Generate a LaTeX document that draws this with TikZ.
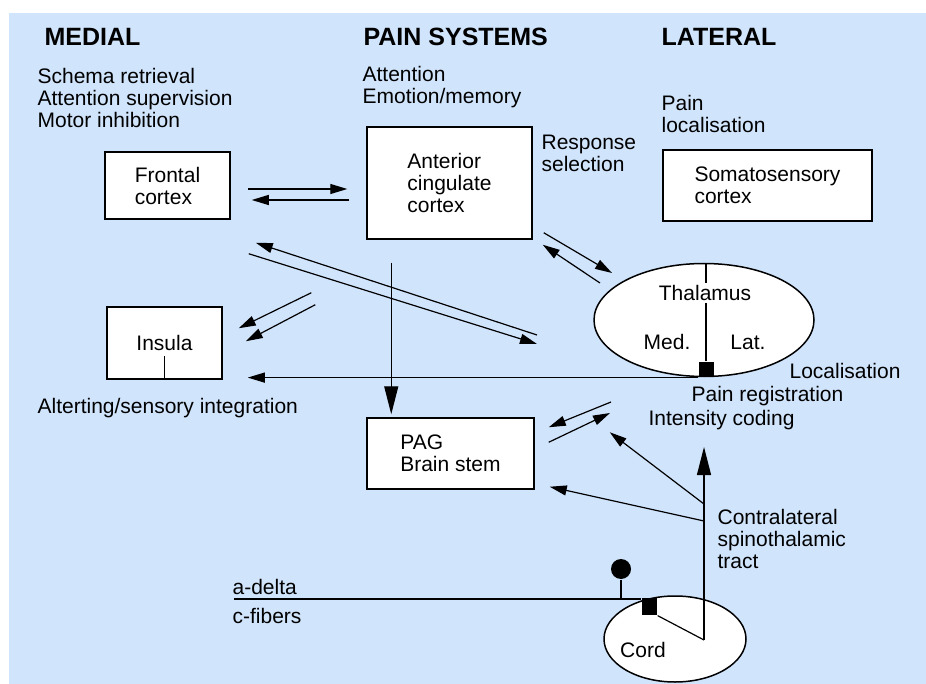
\documentclass[tikz,border=0pt]{standalone}
\usepackage{fontspec}
\setmainfont{Liberation Sans}
\usetikzlibrary{arrows.meta}
\usetikzlibrary{shapes.geometric}
\definecolor{paneblue}{RGB}{208,228,252}

\begin{document}
\begin{tikzpicture}[x=1pt,y=-1pt,->,>={Triangle[length=17pt,width=10pt]},line width=1.2pt,
    box node/.style={rectangle,draw,line width=1.5pt,fill=white,align=left,inner sep=0pt,font=\fontsize{21}{22}\selectfont},
    oval node/.style={ellipse,draw,line width=1.5pt,fill=white,inner sep=0pt},
    text node/.style={inner sep=0pt,anchor=west,align=left,font=\fontsize{21}{22}\selectfont},
    head node/.style={inner sep=0pt,anchor=west,font=\bfseries\fontsize{25}{28}\selectfont},
    big tip/.style={>={Triangle[length=28pt,width=14pt]}}]
   \useasboundingbox (0,0) rectangle (926,684);
   \fill[white] (0,0) rectangle (926,684);
   \fill[paneblue] (9,13) rectangle (926,684);

   % column heads
   \node[head node] (medial) at (44,37) {MEDIAL};
   \node[head node] (painsys) at (363,37) {PAIN SYSTEMS};
   \node[head node] (lateral) at (661,37) {LATERAL};
   \node[text node] (medfn) at (37,98) {Schema retrieval\\Attention supervision\\Motor inhibition};
   \node[text node] (accfn) at (362,87) {Attention\\Emotion/memory};
   \node[text node] (latfn) at (661,114) {Pain\\localisation};
   \node[text node] (respfn) at (541,153) {Response\\selection};

   % areas
   \node[box node,minimum width=125pt,minimum height=67pt] (front) at (167.5,185.5) {Frontal\\cortex};
   \node[box node,minimum width=165pt,minimum height=112pt] (acc) at (449.5,183) {Anterior\\cingulate\\cortex};
   \node[box node,minimum width=209pt,minimum height=71pt] (soma) at (767.5,185.5) {Somatosensory\\cortex};
   \node[box node,minimum width=115pt,minimum height=72pt] (insula) at (164.5,343) {Insula};
   \draw[-] (insula.south) -- ++(0,-24);
   \node[box node,minimum width=167pt,minimum height=71pt] (pag) at (450.5,453.5) {PAG\\Brain stem};
   \node[text node] (insfn) at (37,408) {Alterting/sensory integration};

   % thalamus
   \node[oval node,minimum width=220pt,minimum height=113pt] (thal) at (704,320) {};
   \node[fill=black,minimum width=15pt,minimum height=15pt,inner sep=0pt] (thalsq) at (706,369.5) {};
   \draw[-] (thalsq.north) -- (thalsq.north |- thal.north);
   \node[text node,anchor=center,fill=white,inner sep=2pt] (thallbl) at (705,293) {Thalamus};
   \node[text node,anchor=center] (medlbl) at (667,342) {Med.};
   \node[text node,anchor=center] (latlbl) at (748,342) {Lat.};
   \node[text node] (locfn) at (789,371) {Localisation};
   \node[text node] (regfn) at (691,396) {Pain registration};
   \node[text node] (intfn) at (648,420) {Intensity coding};

   % cord
   \node[oval node,minimum width=142pt,minimum height=86pt] (cord) at (675,639) {};
   \node[text node,anchor=center] (cordlbl) at (643,650) {Cord};
   \node[fill=black,minimum width=15pt,minimum height=17pt,inner sep=0pt] (cordsq) at (649.5,606.5) {};
   \node[circle,fill=black,minimum size=20pt,inner sep=0pt] (ball) at (621,569) {};
   \coordinate (fiberin) at (234,599);
   \coordinate (tractbase) at (704,640);
   \coordinate (tracttop) at (704,447);
   \coordinate (tractA) at (704,504);
   \coordinate (tractB) at (704,521);
   \node[text node] (adelta) at (232,587) {a-delta};
   \node[text node] (cfib) at (232,616) {c-fibers};
   \node[text node] (tractfn) at (717,539) {Contralateral\\spinothalamic\\tract};

   % connections
   \draw[-] (fiberin) -- (fiberin -| cordsq.north west);
   \draw[-] (ball) -- (ball |- fiberin);
   \draw[-] (cordsq.south east) -- (tractbase);
   \draw[big tip] (tractbase) -- (tracttop);
   \draw (tractA) -- ([shift={(75,15)}]pag.north east);
   \draw (tractB) -- ([shift={(15,-3)}]pag.south east);
   \draw[shorten >=25pt] (thalsq.south west) -- (thalsq.south west -| insula.east);
   \draw[big tip,shorten <=23pt,shorten >=3pt] ([xshift=25pt]acc.south west) -- ([xshift=25pt]pag.north west);
   \draw ([shift={(17,3.5)}]front.east) -- ([shift={(-19,6)}]acc.west);
   \draw ([shift={(-17,17)}]acc.west) -- ([shift={(21,14.5)}]front.east);
   \draw ([shift={(11,-7)}]acc.south east) -- ([shift={(-92,-47)}]thal.center);
   \draw ([shift={(-104,-37)}]thal.center) -- ([shift={(10,5)}]acc.south east);
   \draw ([shift={(-167,15)}]thal.center) -- ([shift={(25,23)}]front.south east);
   \draw ([shift={(18,34)}]front.south east) -- ([shift={(-167,24)}]thal.center);
   \draw ([shift={(-55,53)}]acc.south west) -- ([shift={(16,22)}]insula.north east);
   \draw ([shift={(-51,65)}]acc.south west) -- ([shift={(23,35)}]insula.north east);
   \draw ([shift={(-93,82)}]thal.center) -- ([shift={(14,10)}]pag.north east);
   \draw ([shift={(14,25)}]pag.north east) -- ([shift={(-94,93)}]thal.center);
\end{tikzpicture}
\end{document}
